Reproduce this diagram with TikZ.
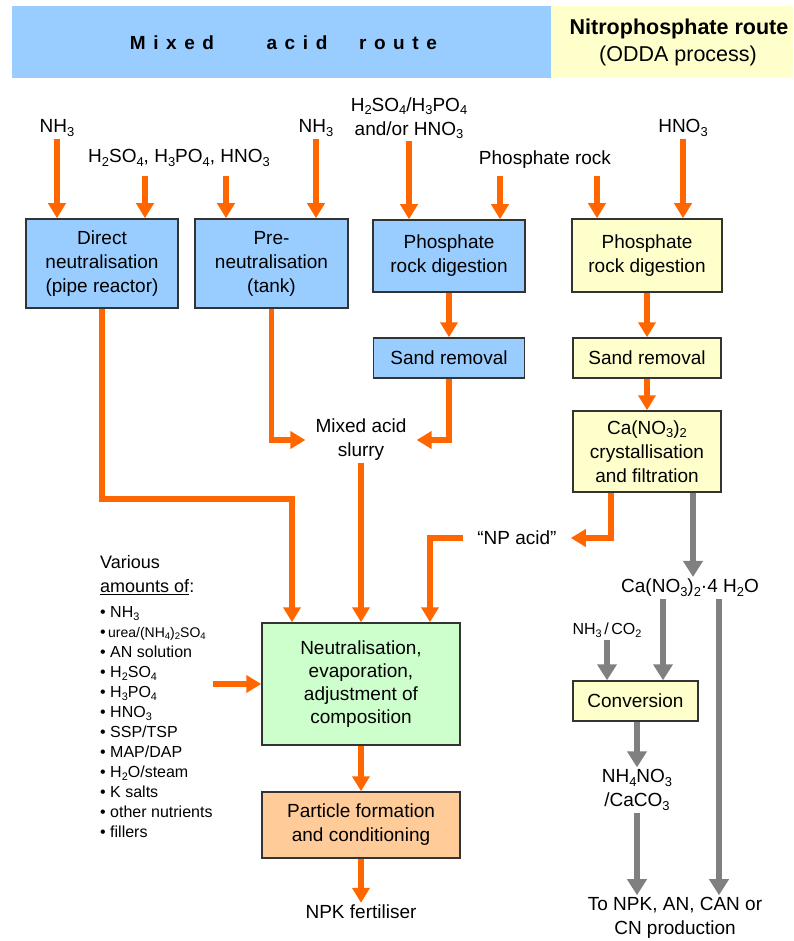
\documentclass[tikz,border=0pt]{standalone}
\usepackage{fontspec}
\setmainfont{Liberation Sans}
\newfontfamily\spacedbold[LetterSpace=40]{Liberation Sans Bold}
\usetikzlibrary{arrows.meta}
\definecolor{hblue}{HTML}{99CCFF}
\definecolor{hyellow}{HTML}{FFFFCC}
\definecolor{hgreen}{HTML}{CCFFCC}
\definecolor{hpeach}{HTML}{FFCC99}
\definecolor{orangec}{HTML}{FF6600}
\definecolor{grayc}{HTML}{808080}
\definecolor{edgec}{HTML}{333333}
\newcommand\sbs[1]{\raisebox{-0.35ex}{\scalebox{0.68}{#1}}}
\tikzset{
  boxb/.style={draw=edgec, line width=1.5, align=center, inner sep=0},
  txt/.style={align=center, inner sep=2},
  oarr/.style={draw=orangec, line width=5.5, -{Triangle[width=17,length=15]}},
  garr/.style={draw=grayc, line width=6.5, -{Triangle[width=19,length=16]}},
}
\begin{document}
\begin{tikzpicture}[x=1pt,y=-1pt,font=\fontsize{19}{24}\selectfont]
\useasboundingbox (0,0) rectangle (793,941);
% header
\node[fill=hblue, minimum width=539, minimum height=72, anchor=north west, inner sep=0] (hdrA) at (12,6) {};
\node[fill=hyellow, minimum width=242, minimum height=72, anchor=north west, inner sep=0] (hdrN) at (551,6) {};
\node[txt] (hw1) at (172,43) {\spacedbold Mixed};
\node[txt] (hw2) at (297,43) {\spacedbold acid};
\node[txt] (hw3) at (398,43) {\spacedbold route};
\node[txt, font=\fontsize{21.5}{26}\selectfont] (hn1) at (679,29) {\bfseries Nitrophosphate route};
\node[txt, font=\fontsize{21.5}{26}\selectfont] (hn2) at (678,56) {(ODDA process)};

% boxes
\node[boxb, fill=hblue, minimum width=152, minimum height=89] (direct) at (102,263.5) {Direct\\neutralisation\\(pipe reactor)};
\node[boxb, fill=hblue, minimum width=153, minimum height=89] (pre) at (271.5,263.5) {Pre-\\neutralisation\\(tank)};
\node[boxb, fill=hblue, minimum width=152, minimum height=72] (prdb) at (449,256) {Phosphate\\rock digestion};
\node[boxb, fill=hyellow, minimum width=150, minimum height=73] (prdy) at (647,255.5) {Phosphate\\rock digestion};
\node[boxb, fill=hblue, minimum width=151, minimum height=40] (srb) at (449,358) {Sand removal};
\node[boxb, fill=hyellow, minimum width=148, minimum height=40] (sry) at (647,358) {Sand removal};
\node[boxb, fill=hyellow, minimum width=148, minimum height=81] (cab) at (647,451.5) {Ca(NO\sbs{3})\sbs{2}\\crystallisation\\and filtration};
\node[boxb, fill=hgreen, minimum width=198, minimum height=122, font=\fontsize{19}{23}\selectfont] (neut) at (361,684) {Neutralisation,\\evaporation,\\adjustment of\\composition};
\node[boxb, fill=hpeach, minimum width=198, minimum height=66] (part) at (361,825) {Particle formation\\and conditioning};
\node[boxb, fill=hyellow, minimum width=125, minimum height=40] (conv) at (635.5,701) {Conversion};

% labels
\node[txt] (nh3a) at (57,128) {NH\sbs{3}};
\node[txt] (acids) at (179,158) {H\sbs{2}SO\sbs{4}, H\sbs{3}PO\sbs{4}, HNO\sbs{3}};
\node[txt] (nh3b) at (316,128) {NH\sbs{3}};
\node[txt] (acidmix) at (409,118) {H\sbs{2}SO\sbs{4}/H\sbs{3}PO\sbs{4}\\and/or HNO\sbs{3}};
\node[txt] (prock) at (545,160) {Phosphate rock};
\node[txt] (hno3) at (683,128) {HNO\sbs{3}};
\node[txt, inner xsep=10] (slurry) at (361,440) {Mixed acid\\slurry};
\node[txt, inner xsep=14] (npacid) at (517,538) {“NP acid”};
\node[txt] (canit) at (690,588) {Ca(NO\sbs{3})\sbs{2}·4 H\sbs{2}O};
\node[txt, font=\fontsize{16}{20}\selectfont] (nh3co2) at (607,630) {NH\sbs{3}\,/\,CO\sbs{2}};
\node[txt] (nh4no3) at (637,790) {NH\sbs{4}NO\sbs{3}\\/CaCO\sbs{3}};
\node[txt] (tonpk) at (675,918) {To NPK, AN, CAN or\\CN production};
\node[txt] (npk) at (361,912) {NPK fertiliser};
\node[txt, align=left, anchor=north west, inner sep=0, font=\fontsize{18}{24}\selectfont] (various) at (100,555) {Various\\\underline{amounts of}:};
\node[txt, align=left, anchor=north west, inner sep=0, font=\fontsize{16}{20}\selectfont] (items) at (100,606) {%
• NH\sbs{3}\\
•{\fontsize{14}{20}\selectfont\,urea/(NH\sbs{4})\sbs{2}SO\sbs{4}}\\
• AN solution\\
• H\sbs{2}SO\sbs{4}\\
• H\sbs{3}PO\sbs{4}\\
• HNO\sbs{3}\\
• SSP/TSP\\
• MAP/DAP\\
• H\sbs{2}O/steam\\
• K salts\\
• other nutrients\\
• fillers};

% coordinates
\coordinate (a2) at (145,176);
\coordinate (a3) at (226,176);
\coordinate (p1) at (500,176);
\coordinate (p2) at (597,176);
\coordinate (dn) at (292,499);
\coordinate (nx) at (430,0);
\coordinate (cb1) at (611,0);
\coordinate (cg) at (693,0);
\coordinate (cv) at (663,0);
\coordinate (lg) at (719,0);

% orange arrows
\draw[oarr] (nh3a.south) -- (direct.north -| nh3a.south);
\draw[oarr] (a2) -- (direct.north -| a2);
\draw[oarr] (a3) -- (pre.north -| a3);
\draw[oarr] (nh3b.south) -- (pre.north -| nh3b.south);
\draw[oarr] (acidmix.south) -- (prdb.north -| acidmix.south);
\draw[oarr] (p1) -- (prdb.north -| p1);
\draw[oarr] (p2) -- (prdy.north -| p2);
\draw[oarr] (hno3.south) -- (prdy.north -| hno3.south);
\draw[oarr] (prdb) -- (srb);
\draw[oarr] (prdy.south) -- (sry.north);
\draw[oarr] (sry.south) -- (cab.north);
\draw[oarr] (srb.south) |- (slurry.east);
\draw[oarr] (pre.south) |- (slurry.west);
\draw[oarr] (direct.south) |- (dn) -- (neut.north -| dn);
\draw[oarr] (slurry.south) -- (neut.north -| slurry.south);
\draw[oarr] (cab.south -| cb1) |- (npacid.east);
\draw[oarr] (npacid.west) -| (neut.north -| nx);
\draw[oarr] (items.east |- neut.west) -- (neut.west);
\draw[oarr] (neut.south) -- (part.north);
\draw[oarr] (part.south) -- (npk.north);

% gray arrows
\draw[garr] (cab.south -| cg) -- (canit.north -| cg);
\draw[garr] (canit.south -| cv) -- (conv.north -| cv);
\draw[garr] (canit.south -| lg) -- (tonpk.north -| lg);
\draw[garr] (nh3co2.south) -- (conv.north -| nh3co2.south);
\draw[garr] (conv.south -| nh4no3.north) -- (nh4no3.north);
\draw[garr] (nh4no3.south) -- (tonpk.north -| nh4no3.south);
\end{tikzpicture}
\end{document}
